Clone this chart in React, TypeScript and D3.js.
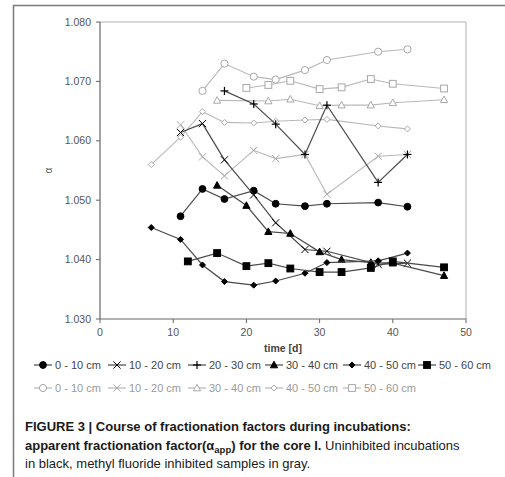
import React from "react";
import * as d3 from "d3";

// Incubation time (days) and apparent fractionation factor per depth layer.
// Uninhibited incubations (black)
const tBlack0_10 = [11, 14, 17, 21, 24, 28, 31, 38, 42];
const vBlack0_10 = [1.0473, 1.0519, 1.0502, 1.0516, 1.0494, 1.049, 1.0494, 1.0496, 1.0489];
const tBlack10_20 = [11, 14, 17, 21, 24, 28, 31, 38, 42];
const vBlack10_20 = [1.0614, 1.0629, 1.0568, 1.0509, 1.0462, 1.0417, 1.0414, 1.0392, 1.0394];
const tBlack20_30 = [17, 21, 24, 28, 31, 38, 42];
const vBlack20_30 = [1.0684, 1.0662, 1.0628, 1.0577, 1.066, 1.053, 1.0577];
const tBlack30_40 = [16, 20, 23, 26, 30, 33, 37, 40, 47];
const vBlack30_40 = [1.0525, 1.0491, 1.0447, 1.0444, 1.0413, 1.04, 1.0395, 1.0394, 1.0373];
const tBlack40_50 = [7, 11, 14, 17, 21, 24, 28, 31, 38, 42];
const vBlack40_50 = [1.0454, 1.0434, 1.0391, 1.0363, 1.0357, 1.0364, 1.0377, 1.0395, 1.0398, 1.0411];
const tBlack50_60 = [12, 16, 20, 23, 26, 30, 33, 37, 40, 47];
const vBlack50_60 = [1.0397, 1.0411, 1.0389, 1.0394, 1.0385, 1.0379, 1.0379, 1.0386, 1.0397, 1.0387];

// Methyl fluoride inhibited samples (gray)
const tGray0_10 = [14, 17, 21, 24, 28, 31, 38, 42];
const vGray0_10 = [1.0684, 1.073, 1.0708, 1.0703, 1.0719, 1.0736, 1.075, 1.0754];
const tGray10_20 = [11, 14, 17, 21, 24, 28, 31, 38, 42];
const vGray10_20 = [1.0627, 1.0573, 1.0541, 1.0584, 1.057, 1.0577, 1.051, 1.0574, 1.0577];
const tGray30_40 = [16, 23, 26, 30, 33, 37, 40, 47];
const vGray30_40 = [1.0668, 1.0667, 1.067, 1.0659, 1.066, 1.066, 1.0664, 1.0669];
const tGray40_50 = [7, 11, 14, 17, 21, 24, 28, 31, 38, 42];
const vGray40_50 = [1.056, 1.0606, 1.0649, 1.0631, 1.063, 1.0633, 1.0635, 1.0636, 1.0625, 1.062];
const tGray50_60 = [20, 23, 26, 30, 33, 37, 40, 47];
const vGray50_60 = [1.0689, 1.0694, 1.0701, 1.0687, 1.069, 1.0704, 1.0696, 1.0688];

const xTicks = [0, 10, 20, 30, 40, 50];
const yTicks = [1.03, 1.04, 1.05, 1.06, 1.07, 1.08];

type Marker = "circle" | "x" | "plus" | "triangle" | "diamond" | "square";

interface Series {
  label: string;
  t: number[];
  v: number[];
  marker: Marker;
  gray: boolean;
}

const blackSeries: Series[] = [
  { label: "0 - 10 cm", t: tBlack0_10, v: vBlack0_10, marker: "circle", gray: false },
  { label: "10 - 20 cm", t: tBlack10_20, v: vBlack10_20, marker: "x", gray: false },
  { label: "20 - 30 cm", t: tBlack20_30, v: vBlack20_30, marker: "plus", gray: false },
  { label: "30 - 40 cm", t: tBlack30_40, v: vBlack30_40, marker: "triangle", gray: false },
  { label: "40 - 50 cm", t: tBlack40_50, v: vBlack40_50, marker: "diamond", gray: false },
  { label: "50 - 60 cm", t: tBlack50_60, v: vBlack50_60, marker: "square", gray: false },
];

const graySeries: Series[] = [
  { label: "0 - 10 cm", t: tGray0_10, v: vGray0_10, marker: "circle", gray: true },
  { label: "10 - 20 cm", t: tGray10_20, v: vGray10_20, marker: "x", gray: true },
  { label: "30 - 40 cm", t: tGray30_40, v: vGray30_40, marker: "triangle", gray: true },
  { label: "40 - 50 cm", t: tGray40_50, v: vGray40_50, marker: "diamond", gray: true },
  { label: "50 - 60 cm", t: tGray50_60, v: vGray50_60, marker: "square", gray: true },
];

const W = 505;
const H = 477;
const plot = { left: 100, right: 466, top: 22, bottom: 319 };
const FONT = "'Liberation Sans', Arial, Helvetica, sans-serif";

const BLACK_LINE = "#4a4a4a";
const GRAY_LINE = "#b8b8b8";
const GRAY_MARK = "#a8a8a8";

const x = d3.scaleLinear().domain([0, 50]).range([plot.left, plot.right]);
const y = d3.scaleLinear().domain([1.03, 1.08]).range([plot.bottom, plot.top]);

function MarkerShape({ kind, cx, cy, gray }: { kind: Marker; cx: number; cy: number; gray: boolean }) {
  const stroke = gray ? GRAY_MARK : "#000";
  const fill = gray ? "#fff" : "#000";
  switch (kind) {
    case "circle":
      return <circle cx={cx} cy={cy} r={gray ? 3.6 : 3.4} fill={fill} stroke={stroke} strokeWidth={1} />;
    case "square":
      return <rect x={cx - 3.4} y={cy - 3.4} width={6.8} height={6.8} fill={fill} stroke={stroke} strokeWidth={1} />;
    case "triangle": {
      const p = d3.path();
      p.moveTo(cx, cy - 3.8);
      p.lineTo(cx + 3.6, cy + 2.8);
      p.lineTo(cx - 3.6, cy + 2.8);
      p.closePath();
      return <path d={p.toString()} fill={fill} stroke={stroke} strokeWidth={1} />;
    }
    case "diamond": {
      const p = d3.path();
      p.moveTo(cx, cy - 3);
      p.lineTo(cx + 3, cy);
      p.lineTo(cx, cy + 3);
      p.lineTo(cx - 3, cy);
      p.closePath();
      return <path d={p.toString()} fill={fill} stroke={stroke} strokeWidth={1} />;
    }
    case "x": {
      const s = 3.6;
      return (
        <g stroke={stroke} strokeWidth={1}>
          <line x1={cx - s} y1={cy - s} x2={cx + s} y2={cy + s} />
          <line x1={cx - s} y1={cy + s} x2={cx + s} y2={cy - s} />
        </g>
      );
    }
    case "plus": {
      const s = 4;
      return (
        <g stroke={stroke} strokeWidth={1.2}>
          <line x1={cx - s} y1={cy} x2={cx + s} y2={cy} />
          <line x1={cx} y1={cy - s} x2={cx} y2={cy + s} />
        </g>
      );
    }
  }
  return null;
}

function SeriesMarks({ s }: { s: Series }) {
  const pts: [number, number][] = s.t.map((t, i) => [x(t), y(s.v[i])]);
  const line = d3.line<[number, number]>();
  return (
    <g>
      <path
        d={line(pts) || ""}
        fill="none"
        stroke={s.gray ? GRAY_LINE : BLACK_LINE}
        strokeWidth={s.gray ? 1.1 : 1.2}
      />
      {pts.map(([px, py], i) => (
        <MarkerShape key={i} kind={s.marker} cx={px} cy={py} gray={s.gray} />
      ))}
    </g>
  );
}

const legendCols = [34, 108, 188, 265, 343, 418];

function LegendRow({ items, rowY }: { items: Series[]; rowY: number }) {
  return (
    <g>
      {items.map((s, i) => {
        const lx = legendCols[i];
        return (
          <g key={s.label + i}>
            <line
              x1={lx}
              x2={lx + 18}
              y1={rowY}
              y2={rowY}
              stroke={s.gray ? GRAY_LINE : BLACK_LINE}
              strokeWidth={1.2}
            />
            <MarkerShape kind={s.marker} cx={lx + 9} cy={rowY} gray={s.gray} />
            <text
              x={lx + 21}
              y={rowY + 4}
              fontSize={11}
              fontFamily={FONT}
              fill={s.gray ? "#9a9a9a" : "#444"}
            >
              {s.label}
            </text>
          </g>
        );
      })}
    </g>
  );
}

export default function App() {
  return (
    <div style={{ position: "absolute", left: 0, top: 0 }}>
      <svg width={W} height={H} viewBox={`0 0 ${W} ${H}`} style={{ display: "block", background: "#fff" }}>
        <rect x={0} y={0} width={W} height={H} fill="#fff" />
        {/* outer frame */}
        <path d={`M13.5,${H} L13.5,5.5 L${W},5.5`} fill="none" stroke="#7a7a7a" strokeWidth={1.5} />

        {/* plot box: light top/right edges */}
        <path
          d={`M${plot.left},${plot.top} L${plot.right},${plot.top} L${plot.right},${plot.bottom}`}
          fill="none"
          stroke="#b0b0b0"
          strokeWidth={1}
        />

        {/* y axis */}
        <line x1={plot.left} x2={plot.left} y1={plot.top} y2={plot.bottom} stroke="#666" strokeWidth={1.2} />
        {yTicks.map((v) => (
          <g key={v}>
            <line x1={plot.left - 4} x2={plot.left} y1={y(v)} y2={y(v)} stroke="#666" strokeWidth={1} />
            <text
              x={plot.left - 9}
              y={y(v) + 3.5}
              textAnchor="end"
              fontSize={10.5}
              fontFamily={FONT}
              fill="#555"
            >
              {d3.format(".3f")(v)}
            </text>
          </g>
        ))}
        <text
          transform={`translate(52,${(plot.top + plot.bottom) / 2}) rotate(-90)`}
          textAnchor="middle"
          fontSize={10}
          fontFamily={FONT}
          fill="#555"
        >
          α
        </text>

        {/* x axis */}
        <line x1={plot.left} x2={plot.right} y1={plot.bottom} y2={plot.bottom} stroke="#666" strokeWidth={1.2} />
        {xTicks.map((t) => (
          <g key={t}>
            <line x1={x(t)} x2={x(t)} y1={plot.bottom} y2={plot.bottom + 4} stroke="#666" strokeWidth={1} />
            <text x={x(t)} y={plot.bottom + 17} textAnchor="middle" fontSize={10.5} fontFamily={FONT} fill="#555">
              {t}
            </text>
          </g>
        ))}
        <text
          x={(plot.left + plot.right) / 2}
          y={352}
          textAnchor="middle"
          fontSize={10.5}
          fontWeight="bold"
          fontFamily={FONT}
          fill="#444"
        >
          time [d]
        </text>

        {/* series: gray first, black on top */}
        {graySeries.map((s) => (
          <SeriesMarks key={"g" + s.label} s={s} />
        ))}
        {blackSeries.map((s) => (
          <SeriesMarks key={"b" + s.label} s={s} />
        ))}

        {/* legend */}
        <LegendRow items={blackSeries} rowY={365} />
        <LegendRow items={graySeries} rowY={388} />

        {/* caption */}
        <g fontFamily={FONT} fontSize={13} fill="#1a1a1a">
          <text x={25} y={431} fontWeight="bold">
            FIGURE 3 | Course of fractionation factors during incubations:
          </text>
          <text x={25} y={450}>
            <tspan fontWeight="bold">apparent fractionation factor(α</tspan>
            <tspan fontWeight="bold" fontSize={9.5} dy={3}>
              app
            </tspan>
            <tspan fontWeight="bold" dy={-3}>
              ) for the core I.
            </tspan>
            <tspan> Uninhibited incubations</tspan>
          </text>
          <text x={25} y={468}>
            in black, methyl fluoride inhibited samples in gray.
          </text>
        </g>
      </svg>
    </div>
  );
}
